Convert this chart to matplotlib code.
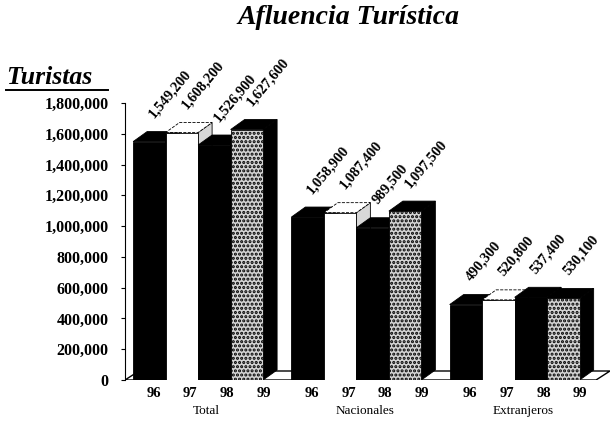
import numpy as np
import matplotlib
matplotlib.use("Agg")
import matplotlib.pyplot as plt
from matplotlib.patches import Polygon
from matplotlib.lines import Line2D

# data
groups = ["Total", "Nacionales", "Extranjeros"]
years = ["96", "97", "98", "99"]
total = [1549200, 1608200, 1526900, 1627600]
nacionales = [1058900, 1087400, 989500, 1097500]
extranjeros = [490300, 520800, 537400, 530100]
series = [total, nacionales, extranjeros]
yticks = [0, 200000, 400000, 600000, 800000, 1000000, 1200000, 1400000, 1600000, 1800000]

plt.rcParams["font.family"] = ["Liberation Serif", "DejaVu Serif"]
plt.rcParams["hatch.color"] = "black"
plt.rcParams["hatch.linewidth"] = 1.5

fig = plt.figure(figsize=(6.1, 4.24), dpi=100)
ax = fig.add_axes([125 / 610, 44 / 424, 485 / 610, 277 / 424])
ax.set_xlim(0, 485 / 32.5)
ax.set_ylim(0, 1800000)

dx = 0.43          # depth, bar units
dy = 65000         # depth, tourists
gstep = 4.87
gstart = 0.25

fronts = ["black", "white", "black", "#d4d4d4"]
hatches = [None, None, None, "...."]
tops = ["black", "white", "black", "black"]
sides = ["black", "#d8d8d8", "black", "black"]

# floor
xend = ax.get_xlim()[1] - dx
floor = Polygon([(0, 0), (xend, 0), (xend + dx, dy * 0.9), (dx, dy * 0.9)],
                closed=True, facecolor="white", edgecolor="black", lw=1.0, zorder=1)
ax.add_patch(floor)

z = 2
for g, vals in enumerate(series):
    x0 = gstart + g * gstep
    for i, v in enumerate(vals):
        x = x0 + i
        side = Polygon([(x + 1, 0), (x + 1 + dx, dy), (x + 1 + dx, v + dy), (x + 1, v)],
                       closed=True, facecolor=sides[i], edgecolor="black", lw=0.6, zorder=z)
        top = Polygon([(x, v), (x + 1, v), (x + 1 + dx, v + dy), (x + dx, v + dy)],
                      closed=True, facecolor=tops[i], edgecolor="black", lw=0.6,
                      ls="--" if i == 1 else "-", zorder=z)
        ax.add_patch(side)
        ax.add_patch(top)
        b = ax.bar(x, v, width=1, align="edge", color=fronts[i], edgecolor="black",
                   lw=0.6, hatch=hatches[i], zorder=z + 1)
        z += 2
        ax.annotate(f"{v:,}", xy=(x + 0.5 + dx / 2, v + dy), xytext=(0, 8),
                    textcoords="offset points", rotation=50, rotation_mode="anchor",
                    ha="left", va="bottom", fontsize=10.5, fontweight="bold", zorder=50)
        ax.text(x + 0.5 + dx * (0.3 + 0.3 * i), -0.025 * 1800000, years[i],
                ha="center", va="top", fontsize=10.5, fontweight="bold")
    ax.text(x0 + 2 + dx * 0.6, -0.09 * 1800000, groups[g], ha="center", va="top",
            fontsize=9.5)

for s in ["top", "right", "bottom"]:
    ax.spines[s].set_visible(False)
ax.spines["left"].set_linewidth(0.8)
ax.set_xticks([])
ax.set_yticks(yticks)
ax.set_yticklabels([f"{t:,}" for t in yticks], fontsize=11.5, fontweight="bold")
ax.tick_params(axis="y", length=3, width=0.8, pad=9)

fig.text(348 / 610, 1 - 17 / 424, "Afluencia Turística", ha="center", va="center",
         fontsize=20, fontweight="bold", fontstyle="italic")
fig.text(6 / 610, 1 - 77 / 424, "Turistas", ha="left", va="center",
         fontsize=18.5, fontweight="bold", fontstyle="italic")
fig.add_artist(Line2D([6 / 610, 108 / 610], [1 - 90 / 424, 1 - 90 / 424],
                      color="black", lw=1.4))

fig.savefig("out.png", dpi=100)
